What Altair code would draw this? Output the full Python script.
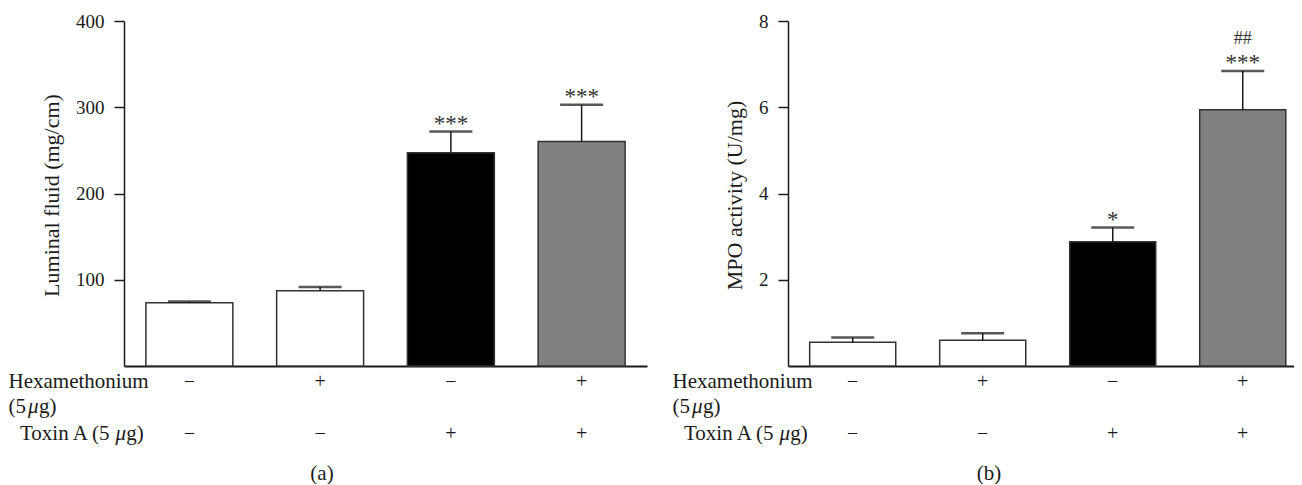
import altair as alt
import pandas as pd

# ---------------- data ----------------
groups = ["Control", "Hexamethonium", "Toxin A", "Hexamethonium + Toxin A"]
hexa_row = ["−", "+", "−", "+"]
toxin_row = ["−", "−", "+", "+"]

fluid_mean = [73.3, 87.3, 247.2, 260.3]
fluid_sem = [1.6, 4.2, 24.6, 42.5]
fluid_sig = ["", "", "***", "***"]
fluid_sig2 = ["", "", "", ""]
fluid_ticks = [100, 200, 300, 400]

mpo_mean = [0.55, 0.60, 2.88, 5.94]
mpo_sem = [0.11, 0.16, 0.33, 0.90]
mpo_sig = ["", "", "*", "***"]
mpo_sig2 = ["", "", "", "##"]
mpo_ticks = [2, 4, 6, 8]

label_hexa = "Hexamethonium"
label_dose = "(5 μg)"
label_toxin = "Toxin A (5 μg)"
panel_letters = ["(a)", "(b)"]
y_titles = ["Luminal fluid (mg/cm)", "MPO activity (U/mg)"]

# ---------------- style ----------------
FONT = "Liberation Serif"
INK = "#1a1a1a"
BAR_COLORS = ["#ffffff", "#ffffff", "#000000", "#808080"]
H = 345
FS = 21

# Times-compatible advance widths (em) for positioning the italic mu pieces
ADV = {"T": .611, "o": .5, "x": .5, "i": .278, "n": .5, " ": .25, "A": .722,
       "(": .333, "5": .5, "g": .5, ")": .333}


def text_width(s, fs):
    return sum(ADV.get(c, .5) for c in s) * fs


def label_layers(s, x0, y0):
    """Row label as real text; the mu is set in italic like the original."""
    layers = []
    if "μ" in s:
        before, after = s.split("μ", 1)
        before = before.rstrip()
        xs = [x0, x0 + text_width(before, FS) + 0.1 * FS]
        xs.append(xs[1] + 0.5 * FS + 0.02 * FS)
        pieces = [(before, xs[0], "normal"), ("μ", xs[1], "italic"), (after, xs[2], "normal")]
    else:
        pieces = [(s, x0, "normal")]
    for txt, xx, style in pieces:
        layers.append(
            alt.Chart(pd.DataFrame({"t": [txt]}))
            .mark_text(font=FONT, fontSize=FS, fontStyle=style, color=INK,
                       align="left", baseline="alphabetic")
            .encode(text="t:N", x=alt.value(xx), y=alt.value(y0))
        )
    return layers


def panel(mean, sem, sig, sig2, ymax, ticks, ytitle, width, xscale, title_x,
          letter, letter_x):
    df = pd.DataFrame({
        "g": groups,
        "mean": mean,
        "upper": [m + s for m, s in zip(mean, sem)],
        "sig": sig,
        "sig2": sig2,
        "hexa": hexa_row,
        "toxin": toxin_row,
    })
    base = alt.Chart(df)
    xaxis = alt.Axis(labels=False, ticks=False, title=None, domain=True,
                     domainColor=INK, domainWidth=2, grid=False)
    x = alt.X("g:N", sort=groups, scale=xscale, axis=xaxis)
    yscale = alt.Scale(domain=[0, ymax], nice=False, zero=True)
    yaxis = alt.Axis(values=ticks, title=ytitle, grid=False,
                     titleFont=FONT, titleFontSize=22, titleFontWeight="normal",
                     titleColor=INK, titleX=title_x, titleY=174,
                     titleAlign="center", titleBaseline="middle", titleAngle=270,
                     labelFont=FONT, labelFontSize=19, labelColor=INK,
                     labelPadding=10, tickSize=10, tickWidth=1.5, tickColor=INK,
                     domainColor=INK, domainWidth=1.5)

    def Y(field):
        return alt.Y(field, scale=yscale, axis=yaxis)

    bars = base.mark_bar(stroke="#333333", strokeWidth=1.5).encode(
        x=x, y=Y("mean:Q"),
        color=alt.Color("g:N", scale=alt.Scale(domain=groups, range=BAR_COLORS),
                        legend=None),
    )
    err = base.mark_rule(color=INK, strokeWidth=1.5).encode(
        x=x, y=Y("mean:Q"), y2="upper:Q")
    cap = base.mark_tick(color="#111111", thickness=2.5, size=43,
                         orient="horizontal").encode(x=x, y=Y("upper:Q"))
    stars = base.mark_text(font=FONT, fontSize=23, color="#333333",
                           baseline="middle", dy=-8).encode(
        x=x, y=Y("upper:Q"), text="sig:N")
    hashes = base.mark_text(font=FONT, fontSize=18, color="#333333",
                            baseline="middle", dy=-32).encode(
        x=x, y=Y("upper:Q"), text="sig2:N")
    row1 = base.mark_text(font=FONT, fontSize=20, color=INK,
                          baseline="alphabetic").encode(
        x=x, y=alt.value(H + 22.3), text="hexa:N")
    row2 = base.mark_text(font=FONT, fontSize=20, color=INK,
                          baseline="alphabetic").encode(
        x=x, y=alt.value(H + 73.5), text="toxin:N")

    layers = [bars, err, cap, stars, hashes, row1, row2]
    layers += label_layers(label_hexa, -115.5, H + 22.3)
    layers += label_layers(label_dose, -115.5, H + 47.3)
    layers += label_layers(label_toxin, -104, H + 73.5)
    layers.append(
        alt.Chart(pd.DataFrame({"t": [letter]}))
        .mark_text(font=FONT, fontSize=FS, color=INK, align="center",
                   baseline="alphabetic")
        .encode(text="t:N", x=alt.value(letter_x), y=alt.value(H + 113.5))
    )
    return alt.layer(*layers).properties(width=width, height=H)


left = panel(fluid_mean, fluid_sem, fluid_sig, fluid_sig2, 400, fluid_ticks,
             y_titles[0], 523,
             alt.Scale(paddingInner=0.335, paddingOuter=0.1675),
             -72.7, panel_letters[0], 198)
right = panel(mpo_mean, mpo_sem, mpo_sig, mpo_sig2, 8, mpo_ticks,
              y_titles[1], 506,
              alt.Scale(paddingInner=0.338, paddingOuter=0.115, align=0.725),
              -53.3, panel_letters[1], 201)

chart = (
    alt.hconcat(left, right, spacing=25)
    .properties(padding={"left": 0, "top": 4, "right": 0, "bottom": 0},
                background="white")
    .configure_view(stroke=None)
)

chart.save("out.html", embed_options={"renderer": "svg", "actions": False})
